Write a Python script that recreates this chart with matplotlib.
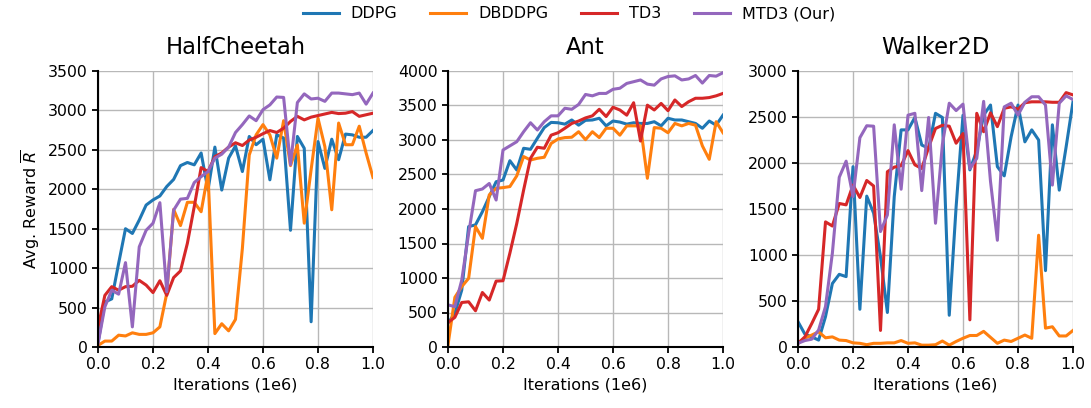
import numpy as np
import matplotlib
matplotlib.use('Agg')
import matplotlib.pyplot as plt

# 41 evaluation points, 0 .. 1e6 iterations
iterations = np.linspace(0.0, 1.0, 41)

envs = ['HalfCheetah', 'Ant', 'Walker2D']
methods = ['DDPG', 'DBDDPG', 'TD3', 'MTD3 (Our)']
colors = ['tab:blue', 'tab:orange', 'tab:red', 'tab:purple']

# HalfCheetah
hc_ddpg = [50, 570, 610, 1060, 1500, 1440, 1610, 1800, 1865, 1915, 2035, 2125, 2300, 2340, 2310, 2460,
           1990, 2535, 1990, 2395, 2550, 2225, 2670, 2565, 2635, 2120, 2690, 2650, 1480, 2670, 2520, 320,
           2605, 2265, 2635, 2375, 2700, 2690, 2660, 2660, 2745]
hc_dbddpg = [20, 75, 75, 150, 140, 180, 160, 160, 180, 255, 680, 1745, 1540, 1835, 1835, 1715,
             2200, 170, 295, 205, 350, 1250, 2435, 2690, 2820, 2690, 2395, 2870, 2300, 2560, 1570, 2250,
             2900, 2540, 1740, 2840, 2565, 2565, 2800, 2460, 2150]
hc_td3 = [250, 655, 765, 720, 765, 770, 845, 785, 690, 840, 655, 880, 965, 1315, 1780, 2275,
          2225, 2415, 2460, 2535, 2590, 2555, 2625, 2660, 2705, 2745, 2720, 2775, 2860, 2925, 2880, 2915,
          2935, 2955, 2975, 2960, 2965, 2985, 2925, 2945, 2965]
hc_mtd3 = [40, 510, 720, 670, 1070, 255, 1270, 1480, 1570, 1830, 700, 1735, 1875, 1885, 2085, 2160,
           2225, 2395, 2445, 2535, 2720, 2820, 2930, 2870, 3010, 3070, 3170, 3165, 2310, 3100, 3210, 3145,
           3155, 3115, 3220, 3220, 3210, 3200, 3220, 3080, 3220]

# Ant
ant_ddpg = [345, 490, 825, 1745, 1770, 1960, 2180, 2395, 2420, 2700, 2565, 2880, 2865, 3025, 3180, 3255,
            3250, 3230, 3290, 3215, 3285, 3290, 3315, 3205, 3275, 3260, 3230, 3250, 3240, 3240, 3265, 3205,
            3315, 3290, 3290, 3265, 3240, 3170, 3275, 3215, 3360]
ant_dbddpg = [30, 720, 875, 995, 1745, 1575, 2205, 2300, 2310, 2325, 2480, 2760, 2710, 2735, 2750, 2950,
              3015, 3035, 3040, 3120, 3005, 3120, 3035, 3170, 3170, 3070, 3205, 3205, 3205, 2445, 3180, 3170,
              3105, 3240, 3205, 3240, 3215, 2915, 2720, 3265, 3105]
ant_td3 = [355, 430, 645, 655, 525, 790, 680, 955, 960, 1360, 1790, 2275, 2735, 2895, 2880, 3070,
           3105, 3170, 3240, 3275, 3320, 3350, 3445, 3340, 3475, 3435, 3360, 3540, 2985, 3505, 3435, 3530,
           3425, 3580, 3485, 3555, 3605, 3605, 3615, 3640, 3675]
ant_mtd3 = [610, 585, 970, 1645, 2265, 2290, 2370, 2130, 2855, 2915, 2975, 3120, 3250, 3145, 3265, 3350,
            3350, 3460, 3445, 3515, 3660, 3640, 3675, 3675, 3735, 3750, 3820, 3845, 3870, 3810, 3795, 3885,
            3920, 3930, 3870, 3885, 3935, 3825, 3935, 3925, 3975]

# Walker2D
wk_ddpg = [275, 140, 110, 75, 330, 690, 790, 765, 1960, 410, 1640, 1455, 980, 375, 1635, 2360,
           2360, 2495, 2195, 2160, 2540, 2495, 345, 1525, 2520, 1925, 2135, 2520, 2630, 1960, 1860, 2285,
           2630, 2230, 2360, 2250, 830, 2415, 1705, 2175, 2665]
wk_dbddpg = [40, 95, 130, 165, 100, 110, 75, 70, 45, 40, 25, 40, 40, 45, 45, 70,
             40, 45, 20, 20, 25, 65, 20, 60, 95, 125, 125, 170, 105, 40, 75, 60,
             95, 130, 95, 1215, 205, 220, 120, 120, 180]
wk_td3 = [40, 110, 255, 410, 1360, 1315, 1560, 1545, 1760, 1625, 1810, 1750, 180, 1905, 1955, 1970,
          2135, 1980, 1940, 2170, 2375, 2410, 2400, 2215, 2320, 295, 2540, 2340, 2545, 2395, 2595, 2610,
          2585, 2655, 2665, 2665, 2665, 2660, 2660, 2765, 2740]
wk_mtd3 = [40, 70, 85, 185, 440, 1020, 1845, 2020, 1635, 2275, 2405, 2400, 1255, 1435, 2415, 1715,
           2520, 2540, 1700, 2495, 1345, 2200, 2650, 2570, 2640, 1940, 2050, 2670, 1800, 1160, 2610, 2650,
           2520, 2660, 2720, 2720, 2630, 1760, 2650, 2730, 2690]

series = {
    'HalfCheetah': [hc_ddpg, hc_dbddpg, hc_td3, hc_mtd3],
    'Ant': [ant_ddpg, ant_dbddpg, ant_td3, ant_mtd3],
    'Walker2D': [wk_ddpg, wk_dbddpg, wk_td3, wk_mtd3],
}
y_limits = {'HalfCheetah': (0, 3500), 'Ant': (0, 4000), 'Walker2D': (0, 3000)}

fig = plt.figure(figsize=(10.91, 4.08), dpi=100)
lefts = [98 / 1091, 448 / 1091, 798 / 1091]
width = 275 / 1091
bottom = 1 - 347 / 408
height = 276 / 408

handles = []
for k, env in enumerate(envs):
    ax = fig.add_axes([lefts[k], bottom, width, height])
    for vals, name, color in zip(series[env], methods, colors):
        line, = ax.plot(iterations, vals, color=color, linewidth=2.2, label=name)
        if k == 0:
            handles.append(line)

    lo, hi = y_limits[env]
    ax.set_xlim(0, 1.0)
    ax.set_ylim(lo, hi)
    ax.set_xticks(np.arange(0, 1.01, 0.2))
    ax.set_yticks(np.arange(lo, hi + 1, 500))
    ax.grid(True, color='#b8b8b8', linewidth=1.0)
    ax.set_axisbelow(True)

    for side in ['top', 'right']:
        ax.spines[side].set_visible(False)
    for side in ['left', 'bottom']:
        ax.spines[side].set_color('black')
        ax.spines[side].set_linewidth(1.5)
    ax.tick_params(direction='out', length=4, width=1.3, colors='black', labelsize=11.3)

    ax.set_title(env, fontsize=16.3, pad=12)
    ax.set_xlabel('Iterations (1e6)', fontsize=11.5)
    if k == 0:
        ax.set_ylabel(r'Avg. Reward $\overline{R}$', fontsize=11.5)

fig.legend(handles=handles, labels=methods, loc='upper center', ncol=4, frameon=False,
           fontsize=11.5, bbox_to_anchor=(0.5215, 1.02), handlelength=2.25,
           handletextpad=0.75, columnspacing=2.05)

fig.savefig('out.png', dpi=100)
